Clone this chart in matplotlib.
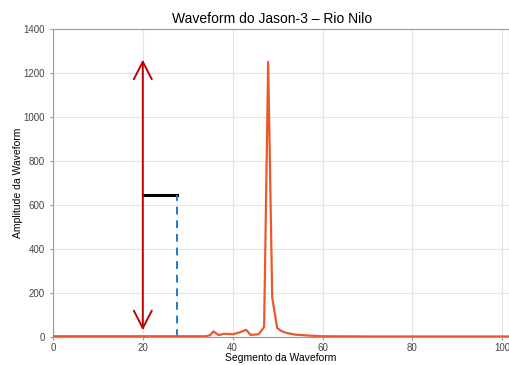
import matplotlib
matplotlib.use("Agg")
import matplotlib.pyplot as plt

# waveform samples
segmento = [0, 5, 10, 15, 20, 25, 30, 34, 35, 35.7, 36.9, 38, 40, 41.5, 43, 44, 45.8,
            47, 47.9, 48.8, 49.9, 51, 52, 54, 57, 60, 70, 80, 90, 100, 101.5]
amplitude = [3, 3, 3, 3, 3, 3, 3, 3, 8, 25, 8, 14, 12, 20, 32, 9, 12,
             45, 1250, 180, 40, 25, 18, 10, 6, 3, 2, 2, 2, 2, 2]

# annotation marks (data units)
seta_x = 20
seta_y = (30, 1260)
meia_altura = 645
x_meia = 27.5

plt.rcParams['font.family'] = ['Liberation Sans', 'DejaVu Sans']

fig = plt.figure(figsize=(5.09, 3.65), dpi=100)
ax = fig.add_axes([0.104, 0.077, 0.896, 0.844])

ax.plot(segmento, amplitude, color='#e9592c', linewidth=1.6, zorder=3)

# double headed arrow showing full amplitude
ax.annotate('', xy=(seta_x, seta_y[1]), xytext=(seta_x, seta_y[0]),
            arrowprops=dict(arrowstyle='<->,head_length=0.7,head_width=0.36',
                            color='#c00000', lw=1.4,
                            mutation_scale=18, shrinkA=0, shrinkB=0))
ax.plot([seta_x, x_meia], [meia_altura, meia_altura], color='black', lw=2.2)
ax.plot([x_meia, x_meia], [0, meia_altura], color='#1e7ad0', lw=1.4,
        linestyle=(0, (4, 3)))

ax.set_xlim(0, 101.5)
ax.set_ylim(0, 1400)
ax.set_xticks([0, 20, 40, 60, 80, 100])
ax.set_yticks(range(0, 1401, 200))
ax.grid(True, color='#e4e4e4', linewidth=0.8)
ax.set_axisbelow(True)

for s in ax.spines.values():
    s.set_color('#9a9a9a')
ax.tick_params(colors='#9a9a9a', labelcolor='#444444', labelsize=7, length=2.5)
ax.tick_params(axis='x', pad=2)

ax.set_title('Waveform do Jason-3 – Rio Nilo', fontsize=10, pad=4, x=0.48)
ax.set_xlabel('Segmento da Waveform', fontsize=7.5, labelpad=0)
ax.set_ylabel('Amplitude da Waveform', fontsize=7.5, labelpad=0)

fig.savefig('out.png', dpi=100)
